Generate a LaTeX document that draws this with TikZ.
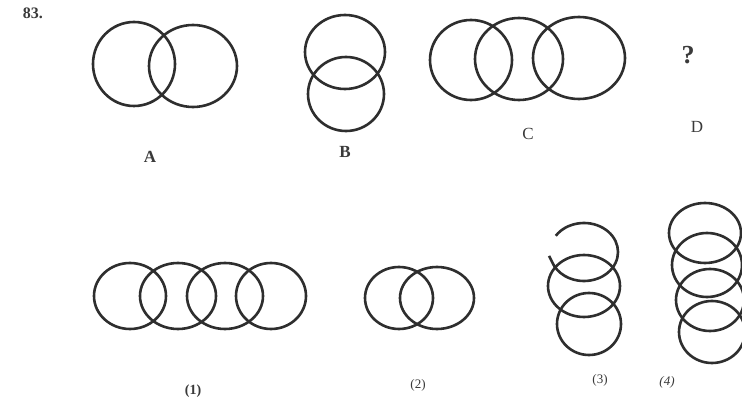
\documentclass[tikz,border=0pt]{standalone}
\usepackage{fontspec}
\setmainfont{Liberation Serif}
\definecolor{ink}{HTML}{2E2E2E}
\definecolor{txt}{HTML}{3A3A3A}
\begin{document}
\begin{tikzpicture}[x=1pt,y=-1pt,
  ring/.style={draw=ink, line width=2.6pt},
  lbl/.style={text=txt, inner sep=0pt, font=\fontsize{17}{17}\selectfont},
  num/.style={text=txt, inner sep=0pt, font=\bfseries\fontsize{14}{14}\selectfont}]
\useasboundingbox[fill=white] (0,0) rectangle (742,406);
% question number
\node[lbl, font=\bfseries\fontsize{16}{16}\selectfont] (q) at (33,13) {83.};
% figure A
\draw[ring] (134,64) ellipse [x radius=41pt, y radius=42pt];
\draw[ring] (193,66) ellipse [x radius=44pt, y radius=41pt];
\node[lbl, font=\bfseries\fontsize{17}{17}\selectfont] (la) at (150,157) {A};
% figure B
\draw[ring] (345,52) ellipse [x radius=40pt, y radius=37pt];
\draw[ring] (346,94) ellipse [x radius=38pt, y radius=37pt];
\node[lbl, font=\bfseries\fontsize{17}{17}\selectfont] (lb) at (345,152) {B};
% figure C
\draw[ring] (471,60) ellipse [x radius=41pt, y radius=40pt];
\draw[ring] (519,59) ellipse [x radius=44pt, y radius=41pt];
\draw[ring] (579,58) ellipse [x radius=46pt, y radius=41pt];
\node[lbl] (lc) at (528,134) {C};
% D
\node[lbl, font=\bfseries\fontsize{26}{26}\selectfont] (qm) at (688,55) {?};
\node[lbl] (ld) at (697,127) {D};
% option 1
\draw[ring] (130,296) ellipse [x radius=36pt, y radius=33pt];
\draw[ring] (178,296) ellipse [x radius=38pt, y radius=33pt];
\draw[ring] (225,296) ellipse [x radius=38pt, y radius=33pt];
\draw[ring] (271,296) ellipse [x radius=35pt, y radius=33pt];
\node[num] (l1) at (193,391) {(1)};
% option 2
\draw[ring] (399,298) ellipse [x radius=34pt, y radius=31pt];
\draw[ring] (437,298) ellipse [x radius=37pt, y radius=31pt];
\node[num, font=\fontsize{13}{13}\selectfont] (l2) at (418,385) {(2)};
% option 3
\draw[ring] (589,324) ellipse [x radius=32pt, y radius=31pt];
\draw[ring] (584,286) ellipse [x radius=36pt, y radius=31pt];
\draw[ring] (584,252) ++(146:34pt and 29pt) arc [start angle=146, end angle=-160, x radius=34pt, y radius=29pt] -- ++(-3pt,6pt);
\node[num, font=\fontsize{13}{13}\selectfont] (l3) at (600,380) {(3)};
% option 4
\draw[ring] (705,233) ellipse [x radius=36pt, y radius=30pt];
\draw[ring] (707,265) ellipse [x radius=35pt, y radius=32pt];
\draw[ring] (710,300) ellipse [x radius=34pt, y radius=31pt];
\draw[ring] (712,332) ellipse [x radius=33pt, y radius=31pt];
\node[num, font=\itshape\fontsize{13}{13}\selectfont] (l4) at (667,382) {(4)};
\end{tikzpicture}
\end{document}
